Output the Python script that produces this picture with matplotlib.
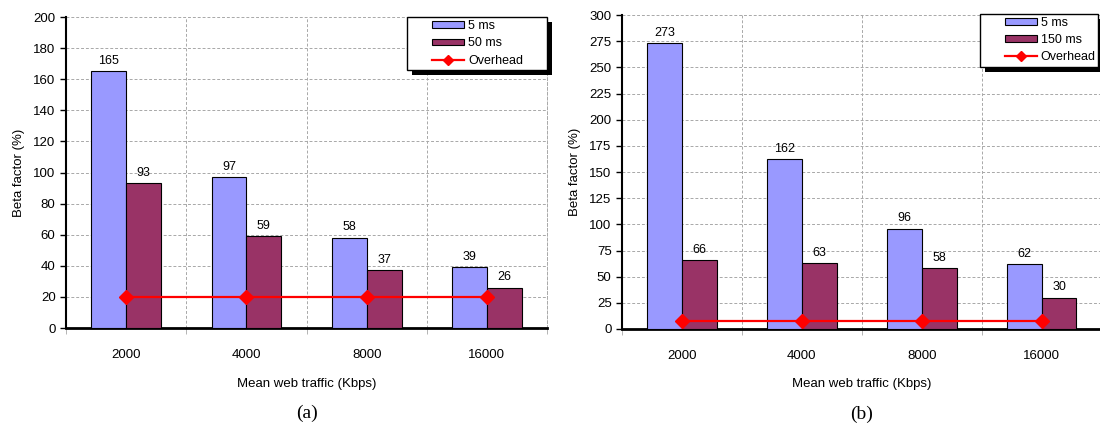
import numpy as np
import matplotlib.pyplot as plt
from matplotlib.patches import Rectangle

plt.rcParams['font.family'] = ['Liberation Sans', 'DejaVu Sans']

# Beta factor per mean web traffic load
traffic = ['2000', '4000', '8000', '16000']

delay_a = ['5 ms', '50 ms']
beta_a_short = [165, 97, 58, 39]
beta_a_long = [93, 59, 37, 26]
overhead_a = [20, 20, 20, 20]

delay_b = ['5 ms', '150 ms']
beta_b_short = [273, 162, 96, 62]
beta_b_long = [66, 63, 58, 30]
overhead_b = [8, 8, 8, 8]

BLUE = '#9999ff'
MAROON = '#993366'
RED = '#ff0000'
GRID = '#a8a8a8'
DASH = (0, (3, 2))


def legend_box(ax, x0, y0, w, h, sx, sy):
    # white framed box with a solid black drop shadow, like a spreadsheet legend
    shadow = Rectangle((x0 + sx, y0 - sy), w, h, transform=ax.transAxes,
                       facecolor='black', edgecolor='none', clip_on=False, zorder=5)
    frame = Rectangle((x0, y0), w, h, transform=ax.transAxes, facecolor='white',
                      edgecolor='black', linewidth=1.0, clip_on=False, zorder=6)
    ax.add_patch(shadow)
    ax.add_patch(frame)


def draw_panel(ax, short, long_, overhead, names, ymax, ystep, tag, box):
    x = np.arange(len(traffic))
    w = 0.29
    b1 = ax.bar(x - w / 2, short, w, color=BLUE, edgecolor='black', linewidth=0.8,
                label=names[0], zorder=3)
    b2 = ax.bar(x + w / 2, long_, w, color=MAROON, edgecolor='black', linewidth=0.8,
                label=names[1], zorder=3)
    ln, = ax.plot(x, overhead, color=RED, lw=1.6, marker='D', ms=7, label='Overhead',
                  zorder=4)

    off = ymax * 0.014
    for bars, vals in ((b1, short), (b2, long_)):
        for r, v in zip(bars, vals):
            ax.text(r.get_x() + r.get_width() / 2, v + off, str(v), ha='center',
                    va='bottom', fontsize=9)

    ax.set_xlim(-0.5, len(traffic) - 0.5)
    ax.set_ylim(0, ymax)
    ax.set_yticks(np.arange(0, ymax + 1, ystep))
    ax.set_xticks(x)
    ax.set_xticklabels(traffic)
    ax.tick_params(axis='x', length=0, pad=15, labelsize=9.5)
    ax.tick_params(axis='y', length=4, width=1, labelsize=9.5, direction='out')
    ax.set_xticks(np.arange(-0.5, len(traffic)), minor=True)
    ax.tick_params(axis='x', which='minor', length=4, color=GRID, direction='out')

    ax.grid(axis='y', color=GRID, linestyle=DASH, linewidth=0.7, zorder=0)
    for b in np.arange(0.5, len(traffic)):
        ax.axvline(b, color=GRID, linestyle=DASH, linewidth=0.7, zorder=0)
    ax.spines['top'].set_visible(False)
    ax.spines['right'].set_linestyle(DASH)
    ax.spines['right'].set_color(GRID)
    ax.spines['right'].set_linewidth(0.7)
    ax.spines['left'].set_linewidth(1.5)
    ax.spines['bottom'].set_linewidth(2)

    ax.set_ylabel('Beta factor (%)', fontsize=9.5, labelpad=6)
    ax.set_xlabel('Mean web traffic (Kbps)', fontsize=9.5, labelpad=12)
    ax.text(0.5, -0.245, tag, transform=ax.transAxes, ha='center', va='top',
            fontsize=14, family='Liberation Serif')

    bx, by, bw, bh, sx, sy = box
    legend_box(ax, bx, by, bw, bh, sx, sy)
    leg = ax.legend([b1, b2, ln], [names[0], names[1], 'Overhead'],
                    loc='upper left', bbox_to_anchor=(bx + 0.045, by + bh + 0.002),
                    borderaxespad=0, fontsize=9, frameon=False,
                    handlelength=2.55, handleheight=0.45, labelspacing=0.42,
                    borderpad=0.3, handletextpad=0.3, markerscale=0.8)
    leg.set_zorder(7)


fig = plt.figure(figsize=(11, 4.26), dpi=100)
ax1 = fig.add_axes([0.06, 0.230, 0.4373, 0.730])
ax2 = fig.add_axes([0.5655, 0.2277, 0.436, 0.737])

draw_panel(ax1, beta_a_short, beta_a_long, overhead_a, delay_a, 200, 20, '(a)',
           (0.709, 0.83, 0.291, 0.17, 0.011, 0.017))
draw_panel(ax2, beta_b_short, beta_b_long, overhead_b, delay_b, 300, 25, '(b)',
           (0.746, 0.834, 0.246, 0.17, 0.011, 0.017))

fig.savefig('out.png', dpi=100)
